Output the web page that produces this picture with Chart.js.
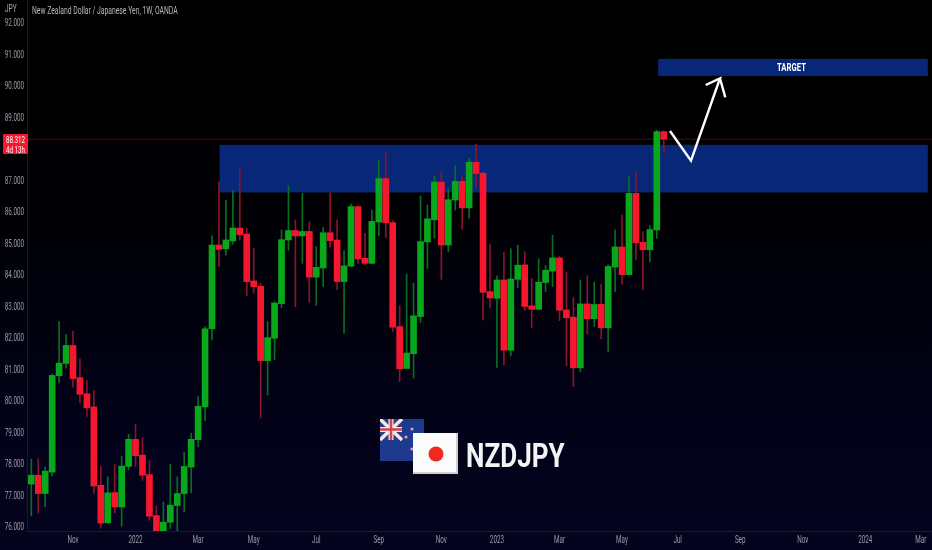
<!DOCTYPE html>
<html>
<head>
<meta charset="utf-8">
<title>NZDJPY</title>
<script src="https://cdn.jsdelivr.net/npm/chart.js@4/dist/chart.umd.min.js"></script>
<style>
  html, body { margin: 0; padding: 0; }
  body {
    width: 932px; height: 550px; overflow: hidden; position: relative;
    background: linear-gradient(#000000 0%, #000003 35%, #02021a 80%, #04041f 100%);
    font-family: Roboto, sans-serif;
  }
  canvas { position: absolute; left: 0; top: 0; }
  .txt { position: absolute; white-space: nowrap; transform-origin: left center; }
  #jpy { left: 5px; top: 3px; font-size: 10px; color: #a8a8b0; transform: scaleX(.65); }
  #title { left: 32px; top: 5px; font-size: 10px; color: #b8b8b8; transform: scaleX(.68); }
  #tag { position: absolute; left: 3px; top: 134px; width: 25px; height: 20px; background: #f6172f; }
  #tag div {
    position: absolute; left: -8px; top: 1px; width: 41px; text-align: center; color: #fff;
    font-size: 9.5px; line-height: 9.5px; transform: scaleX(.65);
  }
  #target { left: 777px; top: 59px; line-height: 17px; font-size: 11px; font-weight: bold; color: #fff; transform: scaleX(.7); }
  #pair { left: 466px; top: 436px; font-size: 33px; line-height: 40px; font-weight: bold; color: #f4f4f4; transform: scaleX(.79); }
  svg { position: absolute; }
</style>
</head>
<body>
<canvas id="chart" width="932" height="550"></canvas>

<div class="txt" id="jpy">JPY</div>
<div class="txt" id="title">New Zealand Dollar / Japanese Yen, 1W, OANDA</div>
<div id="tag"><div>88.312<br>4d 13h</div></div>
<div class="txt" id="target">TARGET</div>

<!-- banderas -->
<svg style="left:380px;top:419px" width="44" height="42" viewBox="0 0 44 42">
  <rect width="44" height="42" fill="#1d3a8f"/>
  <rect width="22" height="21" fill="#2a3f85"/>
  <path d="M0 0L22 21M22 0L0 21" stroke="#f2e6e6" stroke-width="3.5"/>
  <path d="M11 0V21M0 10.5H22" stroke="#f2e6e6" stroke-width="5"/>
  <path d="M11 0V21M0 10.5H22" stroke="#d8404a" stroke-width="2.5"/>
  <circle cx="32" cy="10" r="1.6" fill="#d8a0a8"/>
  <circle cx="26" cy="18" r="1.6" fill="#d8a0a8"/>
  <circle cx="36" cy="17" r="1.6" fill="#d8a0a8"/>
  <circle cx="32" cy="30" r="1.6" fill="#d8a0a8"/>
</svg>
<svg style="left:413px;top:433px" width="45" height="41" viewBox="0 0 45 41">
  <rect width="45" height="41" fill="#cfcfcf"/>
  <rect width="43" height="39" fill="#fbfbfb"/>
  <circle cx="23" cy="21" r="7.5" fill="#f0281e"/>
</svg>
<div class="txt" id="pair">NZDJPY</div>

<script>
// ===============================
// DATOS
// ===============================
const opens = [
  77.36,77.64,77.06,77.74,80.80,81.19,81.76,80.74,80.23,79.81,
  77.32,76.13,77.09,76.63,77.92,78.78,78.28,77.66,76.36,75.85,
  76.15,76.68,77.06,77.90,78.77,79.81,82.29,84.95,84.83,85.08,
  85.49,85.30,83.81,83.64,81.28,81.99,83.09,85.11,85.41,85.24,
  85.38,83.93,84.22,85.34,85.11,83.79,84.28,86.17,84.53,84.37,
  85.68,87.06,85.66,82.36,81.03,81.50,82.68,85.05,85.75,86.95,
  84.95,86.38,86.97,86.13,87.58,87.23,83.47,83.26,83.84,81.61,
  83.86,84.32,83.02,82.91,83.76,84.12,84.54,82.89,82.66,81.05,
  83.08,82.61,83.07,82.32,84.25,84.89,84.01,86.59,85.04,84.80,
  85.43,88.55
];
const closes = [
  77.64,77.06,77.77,80.81,81.20,81.76,80.71,80.21,79.78,77.30,
  76.12,77.08,76.63,77.93,78.78,78.26,77.64,76.34,75.85,76.15,
  76.69,77.06,77.92,78.78,79.83,82.29,84.95,84.81,85.11,85.49,
  85.28,83.79,83.63,81.28,82.01,83.11,85.12,85.41,85.24,85.38,
  83.93,84.24,85.34,85.09,83.79,84.29,86.17,84.51,84.37,85.70,
  87.06,85.66,82.34,81.02,81.52,82.70,85.06,85.78,86.95,84.95,
  86.39,86.97,86.13,87.58,87.22,83.45,83.27,83.84,81.61,83.87,
  84.31,83.00,82.91,83.77,84.15,84.54,82.88,82.64,81.05,83.08,
  82.61,83.06,82.32,84.27,84.89,84.01,86.59,85.02,84.80,85.44,
  88.55,88.31
];
const highs = [
  78.15,78.17,77.90,80.85,82.52,82.11,82.22,81.34,80.65,80.33,
  77.92,77.59,77.99,78.24,78.94,79.26,78.83,78.11,76.66,76.79,
  77.99,77.59,78.37,78.98,80.14,82.36,85.24,86.96,86.38,86.68,
  87.39,85.48,84.85,83.74,82.52,83.15,85.43,86.83,85.75,86.59,
  85.69,84.90,85.51,86.61,85.75,84.77,86.25,86.19,85.32,86.06,
  87.65,87.91,85.73,83.02,84.03,83.74,86.51,86.22,87.14,87.28,
  86.75,87.46,87.12,87.70,88.15,87.28,84.98,83.97,84.72,84.83,
  84.94,84.74,83.89,84.51,84.30,85.26,84.58,84.08,83.28,83.84,
  83.98,83.77,83.71,84.32,85.43,85.90,87.12,87.27,85.38,85.57,
  88.60,88.58
];
const lows = [
  76.35,76.44,76.63,77.62,80.57,81.04,80.44,79.94,79.51,77.06,
  75.96,76.12,76.45,76.02,77.82,77.92,77.48,76.21,75.60,75.70,
  75.95,75.87,76.48,77.08,78.54,79.38,81.94,84.26,84.63,84.98,
  85.11,83.34,83.42,79.46,80.19,81.30,82.96,84.79,82.99,84.37,
  83.13,83.03,83.63,84.88,83.54,82.15,84.26,84.37,84.32,84.35,
  85.24,85.19,82.20,80.61,81.02,80.72,82.49,84.20,85.17,83.86,
  84.74,86.06,85.45,85.80,86.77,82.57,82.96,81.06,81.14,81.43,
  83.60,82.87,82.33,82.89,83.47,83.63,82.55,81.12,80.45,80.93,
  82.13,82.36,81.97,81.57,83.47,83.71,84.00,84.48,83.54,84.42,
  85.16,87.88
];

const yTicks = [76,77,78,79,80,81,82,83,84,85,86,87,88,89,90,91,92];
const xTickWeeks = [6,15,24,32,41,50,59,67,76,85,93,102,111,120,128];
const xTickLabels = ["Nov","2022","Mar","May","Jul","Sep","Nov","2023","Mar","May","Jul","Sep","Nov","2024","Mar"];

const lastPrice = 88.312;

// zonas azules: semana inicial, semana final, precio alto, precio bajo
const resistanceZone = [27.1, 129, 88.13, 86.62];
const targetZone = [90.2, 129, 90.86, 90.32];

// flecha blanca, semana y precio
const arrowWeeks = [91.9, 94.92, 99.09, 97.04, 99.09, 99.86];
const arrowPrices = [88.57, 87.63, 90.24, 90.03, 90.24, 89.64];

const GREEN = "#09a81c", RED = "#f6172f";
const GREEN_WICK = "#0a6e20", RED_WICK = "#8a1428";
const TICK_COLOR = "#9a9aa6";
const TICK_SQUEEZE = 0.63; // la fuente del original es muy estrecha

// ===============================
// ZONAS (por detras de las velas)
// ===============================
const zonesPlugin = {
  id: "zones",
  beforeDatasetsDraw(chart) {
    const { ctx, scales: { x, y } } = chart;
    ctx.save();
    ctx.fillStyle = "#082778";
    [resistanceZone, targetZone].forEach(z => {
      const x0 = x.getPixelForValue(z[0]), x1 = x.getPixelForValue(z[1]);
      const y0 = y.getPixelForValue(z[2]), y1 = y.getPixelForValue(z[3]);
      ctx.fillRect(x0, y0, x1 - x0, y1 - y0);
    });
    ctx.restore();
  }
};

// ===============================
// ETIQUETAS DE EJES ESTRECHAS
// ===============================
function squeezedText(ctx, text, px, py) {
  ctx.save();
  ctx.translate(px, py);
  ctx.scale(TICK_SQUEEZE, 1);
  ctx.fillText(text, 0, 0);
  ctx.restore();
}

const axisLabelsPlugin = {
  id: "axisLabels",
  afterDraw(chart) {
    const { ctx, scales: { x, y } } = chart;
    ctx.save();
    ctx.font = "10px Roboto, sans-serif";
    ctx.fillStyle = TICK_COLOR;
    ctx.textBaseline = "middle";
    ctx.textAlign = "right";
    yTicks.forEach(v => squeezedText(ctx, v.toFixed(3), 24, y.getPixelForValue(v) + 1));
    ctx.textAlign = "center";
    xTickWeeks.forEach((w, i) => squeezedText(ctx, xTickLabels[i], x.getPixelForValue(w), 540));
    ctx.restore();
  }
};

const isUp = i => closes[i] >= opens[i];

new Chart(document.getElementById("chart"), {
  data: {
    datasets: [
      {
        type: "line",
        data: arrowWeeks.map((w, i) => ({ x: w, y: arrowPrices[i] })),
        borderColor: "#ffffff",
        borderWidth: 2.4,
        pointRadius: 0,
        tension: 0,
        order: 0
      },
      {
        type: "bar",
        data: opens.map((o, i) => ({ x: i, y: [Math.min(o, closes[i]), Math.max(o, closes[i])] })),
        backgroundColor: opens.map((o, i) => isUp(i) ? GREEN : RED),
        barThickness: 6,
        grouped: false,
        order: 1
      },
      {
        type: "bar",
        data: lows.map((l, i) => ({ x: i, y: [l, highs[i]] })),
        backgroundColor: lows.map((l, i) => isUp(i) ? GREEN_WICK : RED_WICK),
        barThickness: 1,
        grouped: false,
        order: 2
      },
      {
        type: "line",
        data: [{ x: -1, y: lastPrice }, { x: 130, y: lastPrice }],
        borderColor: "#4c0a1c",
        borderWidth: 1,
        pointRadius: 0,
        order: 3
      }
    ]
  },
  options: {
    responsive: false,
    animation: false,
    layout: { padding: 0 },
    plugins: { legend: { display: false }, tooltip: { enabled: false } },
    scales: {
      x: {
        type: "linear",
        min: -0.62,
        max: 129.6,
        offset: false, // bar pone offset true por defecto y corre todo
        grid: { display: false },
        border: { color: "#1a1a2c" },
        afterBuildTicks: s => { s.ticks = xTickWeeks.map(v => ({ value: v })); },
        afterFit: s => { s.height = 19; s.paddingLeft = 0; s.paddingRight = 0; },
        ticks: {
          autoSkip: false,
          maxRotation: 0,
          color: "transparent",
          font: { size: 8 },
          callback: v => xTickLabels[xTickWeeks.indexOf(v)]
        }
      },
      y: {
        type: "linear",
        min: 75.87,
        max: 92.73,
        grid: { display: false },
        border: { color: "#1a1a2c" },
        afterBuildTicks: s => { s.ticks = yTicks.map(v => ({ value: v })); },
        afterFit: s => { s.width = 27; s.paddingTop = 0; s.paddingBottom = 0; },
        ticks: {
          color: "transparent",
          callback: v => v.toFixed(3)
        }
      }
    }
  },
  plugins: [zonesPlugin, axisLabelsPlugin]
});
</script>
</body>
</html>
